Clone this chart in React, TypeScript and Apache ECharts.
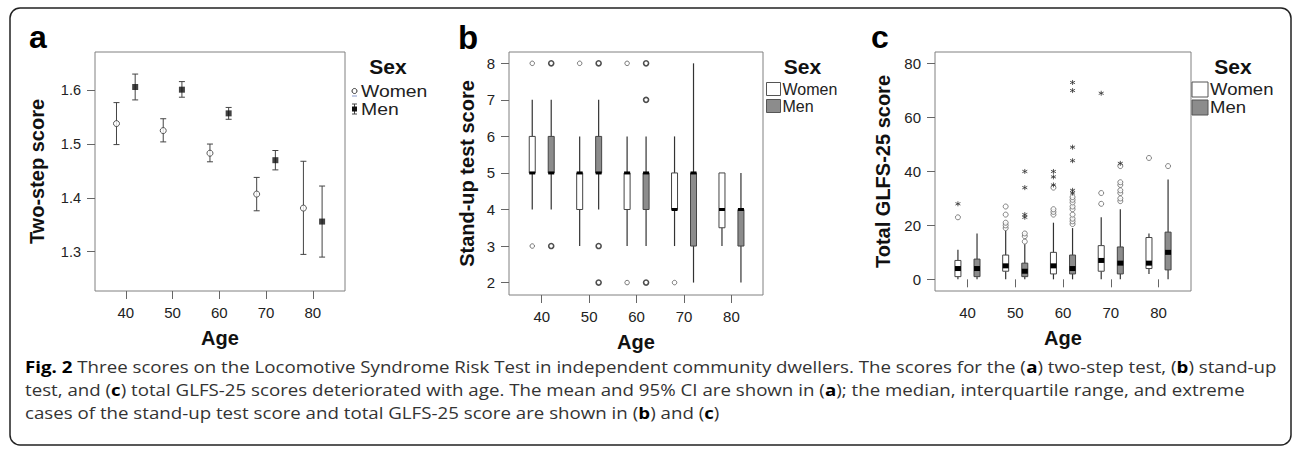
import React, { useEffect, useRef } from "react";
import * as echarts from "echarts";

// ---------- shared ----------
const ageTicks = [40, 50, 60, 70, 80];
const womenAges = [38, 48, 58, 68, 78];
const menAges = [42, 52, 62, 72, 82];

// ---------- panel a: two-step score, mean and 95% CI ----------
const twoStepTicks = [1.3, 1.4, 1.5, 1.6];
const womenMeanA = [1.538, 1.525, 1.483, 1.407, 1.381];
const womenLowA = [1.499, 1.504, 1.467, 1.376, 1.295];
const womenHighA = [1.577, 1.547, 1.5, 1.438, 1.468];
const menMeanA = [1.606, 1.601, 1.557, 1.47, 1.356];
const menLowA = [1.582, 1.587, 1.546, 1.452, 1.29];
const menHighA = [1.63, 1.616, 1.568, 1.488, 1.422];

// ---------- panel b: stand-up test score, [min, q1, median, q3, max] ----------
const standUpTicks = [2, 3, 4, 5, 6, 7, 8];
const womenBoxB = [
  [4, 5, 5, 6, 7],
  [3, 4, 5, 5, 6],
  [3, 4, 5, 5, 6],
  [3, 4, 4, 5, 6],
  [3, 3.5, 4, 5, 5],
];
const menBoxB = [
  [4, 5, 5, 6, 7],
  [4, 5, 5, 6, 7],
  [3, 4, 5, 5, 6],
  [2, 3, 5, 5, 8],
  [2, 3, 4, 4, 5],
];
const womenOutliersB = [[38, 3], [38, 8], [48, 8], [58, 2], [58, 8], [68, 2]];
const menOutliersB = [[42, 3], [42, 8], [52, 2], [52, 3], [52, 8], [62, 2], [62, 7], [62, 8]];

// ---------- panel c: total GLFS-25 score, [min, q1, median, q3, max] ----------
const glfsTicks = [0, 20, 40, 60, 80];
const womenBoxC = [
  [0, 1, 4, 7, 11],
  [0, 3, 5, 9, 18],
  [0, 2, 5, 10, 21],
  [0, 3, 7, 12.5, 23],
  [2, 4, 6, 15.5, 17],
];
const menBoxC = [
  [0, 1, 4, 7.5, 17],
  [0, 1, 3, 6, 13],
  [0, 2, 4, 9, 19],
  [0, 2, 6, 12, 26],
  [0, 3.5, 10, 17.5, 37],
];
const circleOutliersC = [
  [38, 23],
  [48, 19], [48, 20], [48, 21], [48, 24], [48, 27],
  [52, 14], [52, 16], [52, 17],
  [58, 24], [58, 25], [58, 26], [58, 34],
  [62, 20.5], [62, 21.5], [62, 22.5], [62, 24], [62, 26], [62, 27], [62, 28.5], [62, 29.5], [62, 30.5],
  [68, 28], [68, 32],
  [72, 29], [72, 30], [72, 32], [72, 33], [72, 35], [72, 36], [72, 42],
  [78, 45],
  [82, 42],
];
const starOutliersC = [
  [38, 28],
  [52, 23], [52, 24], [52, 34], [52, 40],
  [58, 35], [58, 38], [58, 40],
  [62, 32], [62, 33], [62, 44], [62, 49], [62, 70], [62, 73],
  [68, 69],
  [72, 43],
];

const captionLines = [
  "{b|Fig. 2} Three scores on the Locomotive Syndrome Risk Test in independent community dwellers. The scores for the ({b|a}) two-step test, ({b|b}) stand-up",
  "test, and ({b|c}) total GLFS-25 scores deteriorated with age. The mean and 95% CI are shown in ({b|a}); the median, interquartile range, and extreme",
  "cases of the stand-up test score and total GLFS-25 score are shown in ({b|b}) and ({b|c})",
];

const FONT = "Liberation Sans, Arial, Helvetica, sans-serif";
const STAR = "path://M5,0L5,10M0.67,2.5L9.33,7.5M0.67,7.5L9.33,2.5";

function errorBarRender(params: any, api: any) {
  const x = api.value(0);
  const lo = api.coord([x, api.value(1)]);
  const hi = api.coord([x, api.value(2)]);
  const w = 3;
  const style = { stroke: "#444", lineWidth: 1 };
  return {
    type: "group",
    children: [
      { type: "line", shape: { x1: lo[0], y1: lo[1], x2: hi[0], y2: hi[1] }, style },
      { type: "line", shape: { x1: lo[0] - w, y1: lo[1], x2: lo[0] + w, y2: lo[1] }, style },
      { type: "line", shape: { x1: hi[0] - w, y1: hi[1], x2: hi[0] + w, y2: hi[1] }, style },
    ],
  };
}

function boxRender(fill: string, medianKind: "line" | "square") {
  return (params: any, api: any) => {
    const x = api.value(0);
    const pMin = api.coord([x, api.value(1)]);
    const pQ1 = api.coord([x, api.value(2)]);
    const pMed = api.coord([x, api.value(3)]);
    const pQ3 = api.coord([x, api.value(4)]);
    const pMax = api.coord([x, api.value(5)]);
    const cx = pMed[0];
    const hw = 3;
    const ls = { stroke: "#333", lineWidth: 1.2 };
    return {
      type: "group",
      children: [
        { type: "line", shape: { x1: cx, y1: pMin[1], x2: cx, y2: pQ1[1] }, style: ls },
        { type: "line", shape: { x1: cx, y1: pQ3[1], x2: cx, y2: pMax[1] }, style: ls },
        {
          type: "rect",
          shape: { x: cx - hw, y: pQ3[1], width: hw * 2, height: pQ1[1] - pQ3[1] },
          style: { fill, stroke: "#444", lineWidth: 1 },
        },
        medianKind === "line"
          ? { type: "line", shape: { x1: cx - hw, y1: pMed[1], x2: cx + hw, y2: pMed[1] }, style: { stroke: "#000", lineWidth: 3 } }
          : { type: "rect", shape: { x: cx - hw, y: pMed[1] - 2.5, width: hw * 2, height: 5 }, style: { fill: "#000" } },
      ],
    };
  };
}

function xAxis(gridIndex: number, min: number, max: number, nameGap: number) {
  return {
    type: "value",
    gridIndex,
    min,
    max,
    axisLine: { show: false },
    splitLine: { show: false },
    axisTick: { show: true, customValues: ageTicks, length: 8, lineStyle: { color: "#666", width: 1 } },
    axisLabel: { customValues: ageTicks, fontSize: 15, color: "#222", margin: 14, fontFamily: FONT },
    name: "Age",
    nameLocation: "middle",
    nameGap,
    nameTextStyle: { fontSize: 20, fontWeight: "bold", color: "#111", fontFamily: FONT },
  };
}

function yAxis(gridIndex: number, min: number, max: number, ticks: number[], name: string, nameGap: number, fmt: (v: number) => string, fontSize: number) {
  return {
    type: "value",
    gridIndex,
    min,
    max,
    axisLine: { show: false },
    splitLine: { show: false },
    axisTick: { show: true, customValues: ticks, length: 8, lineStyle: { color: "#666", width: 1 } },
    axisLabel: { customValues: ticks, fontSize, color: "#222", margin: 14, fontFamily: FONT, formatter: fmt },
    name,
    nameLocation: "middle",
    nameRotate: 90,
    nameGap,
    nameTextStyle: { fontSize: 20, fontWeight: "bold", color: "#111", fontFamily: FONT },
  };
}

function legendBoxes(sexX: number, swX: number, y1: number, y2: number, fs: number, sw: number, sh: number, sx: number) {
  return [
    { type: "text", x: sexX, y: 66, style: { text: "Sex", font: `bold 21px ${FONT}`, fill: "#111", align: "center", verticalAlign: "middle" } },
    { type: "rect", shape: { x: swX, y: y1 - sh / 2, width: sw, height: sh }, style: { fill: "#fff", stroke: "#555", lineWidth: 1 } },
    { type: "rect", shape: { x: swX, y: y2 - sh / 2, width: sw, height: sh }, style: { fill: "#8c8c8c", stroke: "#555", lineWidth: 1 } },
    { type: "text", x: swX + sw + 2, y: y1, scaleX: sx, style: { text: "Women", font: `${fs}px ${FONT}`, fill: "#222", verticalAlign: "middle" } },
    { type: "text", x: swX + sw + 2, y: y2, scaleX: sx, style: { text: "Men", font: `${fs}px ${FONT}`, fill: "#222", verticalAlign: "middle" } },
  ];
}

export default function App() {
  const ref = useRef<HTMLDivElement>(null);
  useEffect(() => {
    if (!ref.current) return;
    const chart = echarts.init(ref.current, null, { renderer: "svg", width: 1293, height: 449 });
    const gridStyle = { show: true, borderColor: "#808080", borderWidth: 1, backgroundColor: "transparent" };
    const option: any = {
      animation: false,
      backgroundColor: "#fff",
      grid: [
        { left: 95, top: 52, width: 250, height: 239, ...gridStyle },
        { left: 509, top: 52, width: 254, height: 243, ...gridStyle },
        { left: 935, top: 52, width: 256, height: 239, ...gridStyle },
      ],
      xAxis: [xAxis(0, 33.4, 86.9, 37), xAxis(1, 33.1, 86.65, 37), xAxis(2, 33.2, 86.8, 37)],
      yAxis: [
        yAxis(0, 1.227, 1.671, twoStepTicks, "Two-step score", 48, (v) => v.toFixed(1), 14.5),
        yAxis(1, 1.66, 8.31, standUpTicks, "Stand-up test score", 32, (v) => String(v), 15),
        yAxis(2, -4.33, 84.3, glfsTicks, "Total GLFS-25 score", 42, (v) => String(v), 15),
      ],
      series: [
        // panel a
        {
          type: "custom", xAxisIndex: 0, yAxisIndex: 0, renderItem: errorBarRender,
          data: womenAges.map((a, i) => [a, womenLowA[i], womenHighA[i]]),
        },
        {
          type: "custom", xAxisIndex: 0, yAxisIndex: 0, renderItem: errorBarRender,
          data: menAges.map((a, i) => [a, menLowA[i], menHighA[i]]),
        },
        {
          type: "scatter", xAxisIndex: 0, yAxisIndex: 0, symbol: "circle", symbolSize: 6,
          itemStyle: { color: "#fff", borderColor: "#333", borderWidth: 1 },
          data: womenAges.map((a, i) => [a, womenMeanA[i]]),
        },
        {
          type: "scatter", xAxisIndex: 0, yAxisIndex: 0, symbol: "rect", symbolSize: 6,
          itemStyle: { color: "#111" },
          data: menAges.map((a, i) => [a, menMeanA[i]]),
        },
        // panel b
        {
          type: "custom", xAxisIndex: 1, yAxisIndex: 1, renderItem: boxRender("#fff", "line"),
          data: womenBoxB.map((b, i) => [womenAges[i], ...b]),
        },
        {
          type: "custom", xAxisIndex: 1, yAxisIndex: 1, renderItem: boxRender("#8c8c8c", "line"),
          data: menBoxB.map((b, i) => [menAges[i], ...b]),
        },
        {
          type: "scatter", xAxisIndex: 1, yAxisIndex: 1, symbol: "circle", symbolSize: 4.5,
          itemStyle: { color: "#fff", borderColor: "#555", borderWidth: 1 },
          data: womenOutliersB,
        },
        {
          type: "scatter", xAxisIndex: 1, yAxisIndex: 1, symbol: "circle", symbolSize: 5,
          itemStyle: { color: "#fff", borderColor: "#222", borderWidth: 1.6 },
          data: menOutliersB,
        },
        // panel c
        {
          type: "custom", xAxisIndex: 2, yAxisIndex: 2, renderItem: boxRender("#fff", "square"),
          data: womenBoxC.map((b, i) => [womenAges[i], ...b]),
        },
        {
          type: "custom", xAxisIndex: 2, yAxisIndex: 2, renderItem: boxRender("#8c8c8c", "square"),
          data: menBoxC.map((b, i) => [menAges[i], ...b]),
        },
        {
          type: "scatter", xAxisIndex: 2, yAxisIndex: 2, symbol: "circle", symbolSize: 5,
          itemStyle: { color: "#fff", borderColor: "#555", borderWidth: 0.9 },
          data: circleOutliersC,
        },
        {
          type: "scatter", xAxisIndex: 2, yAxisIndex: 2, symbol: STAR, symbolSize: 5,
          itemStyle: { color: "none", borderColor: "#333", borderWidth: 1 },
          data: starOutliersC,
        },
      ],
      graphic: [
        { type: "rect", shape: { x: 10, y: 8, width: 1281, height: 437, r: 10 }, style: { fill: "none", stroke: "#222", lineWidth: 1.5 } },
        { type: "text", x: 29, y: 37.3, style: { text: "a", font: `bold 32px ${FONT}`, fill: "#000", verticalAlign: "middle" } },
        { type: "text", x: 458, y: 37.6, style: { text: "b", font: `bold 33px ${FONT}`, fill: "#000", verticalAlign: "middle" } },
        { type: "text", x: 871, y: 36.6, style: { text: "c", font: `bold 32px ${FONT}`, fill: "#000", verticalAlign: "middle" } },
        // legend a
        { type: "text", x: 388, y: 66, style: { text: "Sex", font: `bold 21px ${FONT}`, fill: "#111", align: "center", verticalAlign: "middle" } },
        { type: "circle", shape: { cx: 354.5, cy: 91, r: 2.5 }, style: { fill: "#fff", stroke: "#333", lineWidth: 1 } },
        { type: "line", shape: { x1: 352, y1: 96, x2: 357, y2: 96 }, style: { stroke: "#8899cc", lineWidth: 1 } },
        { type: "line", shape: { x1: 354.5, y1: 104, x2: 354.5, y2: 114 }, style: { stroke: "#444", lineWidth: 1 } },
        { type: "line", shape: { x1: 352, y1: 104, x2: 357, y2: 104 }, style: { stroke: "#444", lineWidth: 1 } },
        { type: "line", shape: { x1: 352, y1: 114, x2: 357, y2: 114 }, style: { stroke: "#444", lineWidth: 1 } },
        { type: "rect", shape: { x: 352, y: 106.5, width: 5, height: 5 }, style: { fill: "#111" } },
        { type: "text", x: 361, y: 91, scaleX: 1.14, style: { text: "Women", font: `17px ${FONT}`, fill: "#222", verticalAlign: "middle" } },
        { type: "text", x: 361, y: 109, scaleX: 1.14, style: { text: "Men", font: `17px ${FONT}`, fill: "#222", verticalAlign: "middle" } },
        // legend b
        ...legendBoxes(802.5, 766.5, 89, 106, 16, 14, 13, 1),
        // legend c
        ...legendBoxes(1233, 1192, 89.5, 107.5, 17, 16, 15, 1.09),
        // caption
        ...captionLines.map((t, i) => ({
          type: "text",
          x: 25,
          y: 366 + i * 23,
          scaleX: 1.133,
          style: {
            text: t,
            font: `16.5px Open Sans, sans-serif`,
            fill: "#333",
            verticalAlign: "middle",
            rich: { b: { fontWeight: "bold", fill: "#000", fontSize: 16.5, fontFamily: "Open Sans, sans-serif" } },
          },
        })),
      ],
    };
    chart.setOption(option);
    return () => chart.dispose();
  }, []);
  return <div ref={ref} style={{ position: "absolute", left: 0, top: 0, width: 1293, height: 449, background: "#fff" }} />;
}
